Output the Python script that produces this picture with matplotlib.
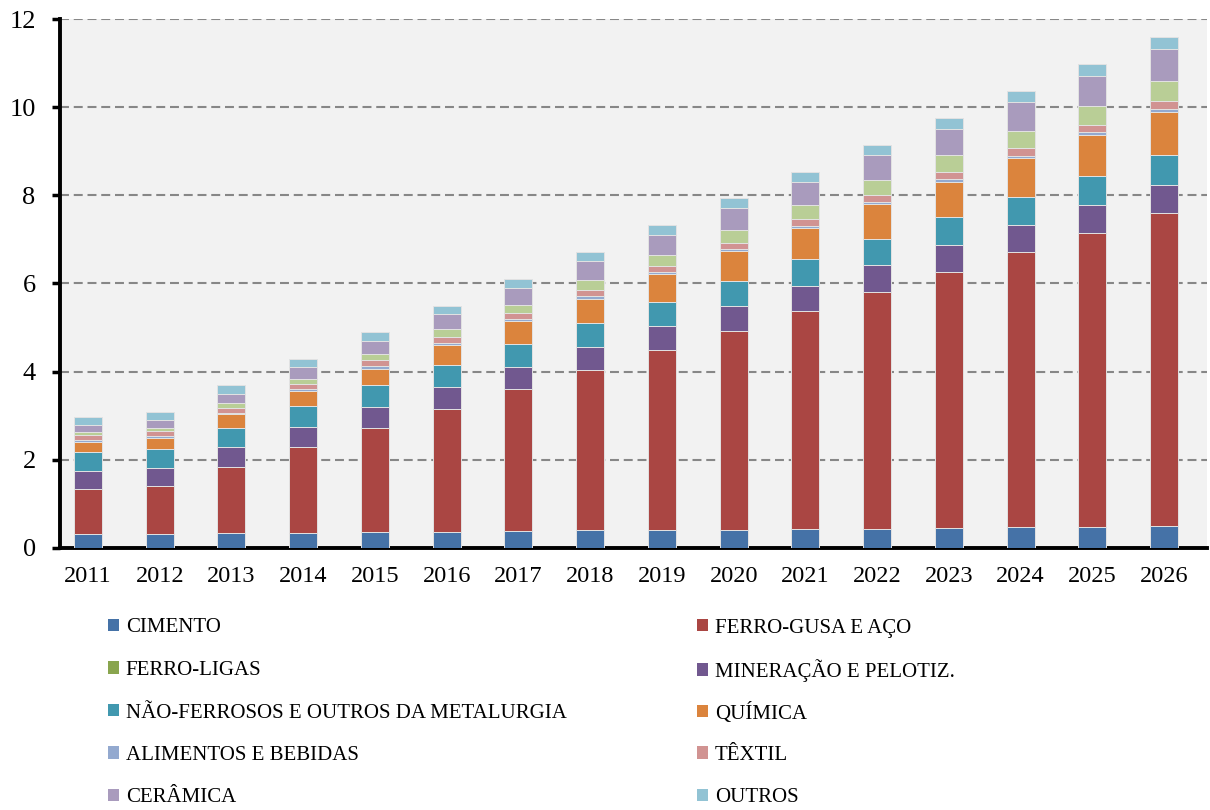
import numpy as np
import matplotlib
matplotlib.use("Agg")
import matplotlib.pyplot as plt
from matplotlib.patches import Patch

plt.rcParams['font.family'] = ['Liberation Serif', 'DejaVu Serif']

years = [str(y) for y in range(2011, 2027)]

# values per sector (stack order bottom -> top)
cimento = [0.31, 0.31, 0.33, 0.34, 0.36, 0.37, 0.38, 0.40, 0.40, 0.41, 0.43, 0.44, 0.46, 0.47, 0.47, 0.49]
ferro_gusa = [1.03, 1.09, 1.51, 1.94, 2.36, 2.79, 3.22, 3.64, 4.09, 4.52, 4.95, 5.37, 5.80, 6.24, 6.67, 7.11]
mineracao = [0.41, 0.42, 0.44, 0.47, 0.48, 0.50, 0.51, 0.53, 0.54, 0.56, 0.57, 0.61, 0.61, 0.61, 0.65, 0.64]
nao_ferrosos = [0.43, 0.43, 0.45, 0.46, 0.49, 0.49, 0.52, 0.54, 0.55, 0.57, 0.60, 0.60, 0.63, 0.65, 0.66, 0.68]
quimica = [0.23, 0.25, 0.30, 0.34, 0.38, 0.46, 0.51, 0.54, 0.63, 0.67, 0.71, 0.78, 0.81, 0.87, 0.92, 0.98]
alimentos = [0.04, 0.03, 0.03, 0.05, 0.05, 0.04, 0.05, 0.06, 0.05, 0.05, 0.05, 0.05, 0.06, 0.05, 0.06, 0.06]
textil = [0.11, 0.13, 0.12, 0.12, 0.14, 0.14, 0.13, 0.15, 0.13, 0.15, 0.16, 0.15, 0.17, 0.19, 0.17, 0.18]
ferro_ligas = [0.07, 0.06, 0.10, 0.11, 0.14, 0.18, 0.20, 0.22, 0.25, 0.29, 0.31, 0.35, 0.37, 0.39, 0.43, 0.45]
ceramica = [0.17, 0.19, 0.22, 0.27, 0.30, 0.33, 0.37, 0.42, 0.46, 0.49, 0.53, 0.57, 0.60, 0.65, 0.68, 0.73]
outros = [0.17, 0.17, 0.19, 0.19, 0.20, 0.20, 0.21, 0.21, 0.23, 0.23, 0.23, 0.23, 0.25, 0.25, 0.27, 0.27]

series = [
    ("CIMENTO", cimento, "#4572A7"),
    ("FERRO-GUSA E AÇO", ferro_gusa, "#AA4643"),
    ("MINERAÇÃO E PELOTIZ.", mineracao, "#71588F"),
    ("NÃO-FERROSOS E OUTROS DA METALURGIA", nao_ferrosos, "#4198AF"),
    ("QUÍMICA", quimica, "#DB843D"),
    ("ALIMENTOS E BEBIDAS", alimentos, "#93A9CF"),
    ("TÊXTIL", textil, "#D19392"),
    ("FERRO-LIGAS", ferro_ligas, "#B9CE96"),
    ("CERÂMICA", ceramica, "#A99BBD"),
    ("OUTROS", outros, "#92C3D4"),
]
legend_colors = {"FERRO-LIGAS": "#89A54E"}

fig = plt.figure(figsize=(12.1, 8.1), dpi=100)
ax = fig.add_axes([0.0496, 0.3235, 0.948, 0.653])
ax.set_facecolor("#F2F2F2")

x = np.arange(len(years))
bottom = np.zeros(len(years))
for name, vals, col in series:
    ax.bar(x, vals, width=0.39, bottom=bottom, color=col,
           edgecolor="#E2E2E2", linewidth=0.7, zorder=3)
    bottom += np.array(vals)

ax.set_ylim(0, 12)
ax.set_xlim(-0.39, 15.6)
ax.set_yticks(range(0, 13, 2))
ax.yaxis.grid(True, color="#878787", linestyle=(0, (4.3, 2.3)), linewidth=1.5, zorder=1)
ax.set_xticks(x)
ax.set_xticklabels(years, fontsize=17.5)
ax.tick_params(axis='x', length=0, pad=13)
ax.tick_params(axis='y', labelsize=19, length=5.5, width=2.5, pad=12)

for s in ["top", "right"]:
    ax.spines[s].set_visible(False)
for s in ["left", "bottom"]:
    ax.spines[s].set_linewidth(2.8)
    ax.spines[s].set_color("black")

# legend laid out as two columns, one entry per row
handles = {name: Patch(facecolor=legend_colors.get(name, col), edgecolor="none")
           for name, vals, col in series}
col1 = ["CIMENTO", "FERRO-LIGAS", "NÃO-FERROSOS E OUTROS DA METALURGIA",
        "ALIMENTOS E BEBIDAS", "CERÂMICA"]
col2 = ["FERRO-GUSA E AÇO", "MINERAÇÃO E PELOTIZ.", "QUÍMICA", "TÊXTIL", "OUTROS"]

kw = dict(frameon=False, fontsize=15, handlelength=0.55, handleheight=0.55,
          handletextpad=0.3, borderaxespad=0, borderpad=0, loc="center left")
row_y = [628, 670.5, 713, 755.5, 798]
for names, x0 in [(col1, 108 / 1210), (col2, 697 / 1210)]:
    for name, ry in zip(names, row_y):
        fig.legend([handles[name]], [name], bbox_to_anchor=(x0, 1 - ry / 810), **kw)

fig.savefig("out.png", dpi=100)
